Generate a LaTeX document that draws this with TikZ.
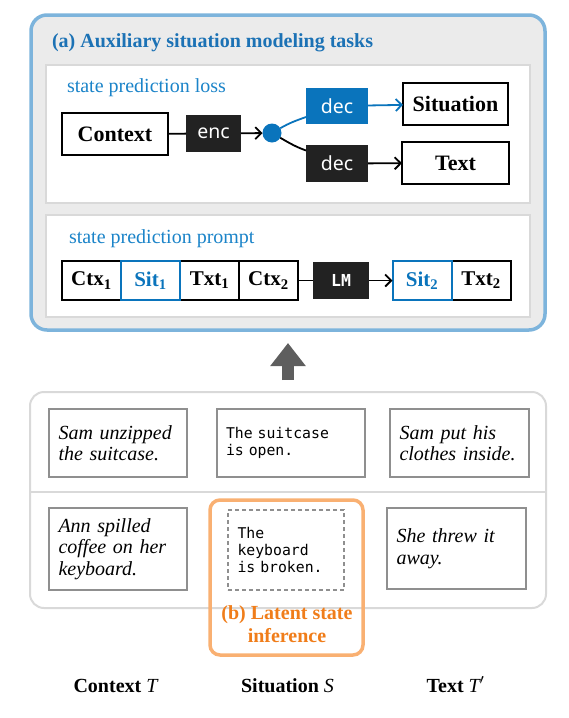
\documentclass[tikz,border=0pt]{standalone}
\usepackage{fontspec}
\setmainfont{Liberation Serif}
\setsansfont{Noto Sans}
\setmonofont{DejaVu Sans Mono}
\usetikzlibrary{positioning,arrows.meta}

\definecolor{frameblue}{HTML}{7DB4DC}
\definecolor{headblue}{HTML}{1C72B5}
\definecolor{softblue}{HTML}{1B84C9}
\definecolor{decblue}{HTML}{0A74BC}
\definecolor{panelgray}{HTML}{EBEBEB}
\definecolor{rimgray}{HTML}{D9D9D9}
\definecolor{cellgray}{HTML}{8F8F8F}
\definecolor{darkbox}{HTML}{222222}
\definecolor{hintorange}{HTML}{F07D1A}
\definecolor{hintrim}{HTML}{F9B072}
\definecolor{liftgray}{HTML}{5E5E5E}

\begin{document}
\begin{tikzpicture}[x=1pt,y=-1pt,
        every node/.style={inner sep=0pt,outer sep=0pt},
        frame/.style={draw=frameblue,line width=3.5pt,fill=panelgray,rounded corners=16pt},
        panel/.style={draw=rimgray,line width=2.5pt,fill=white},
        plain/.style={draw,line width=2pt,fill=white,font=\fontsize{22}{24}\selectfont\bfseries},
        dark/.style={fill=darkbox,text=white,font=\sffamily\fontsize{19.5}{21}\selectfont},
        bright/.style={dark,fill=decblue},
        tok/.style={plain,minimum width=59pt,minimum height=39pt,font=\fontsize{21}{24}\selectfont\bfseries},
        hot/.style={tok,draw=decblue,text=decblue},
        cell/.style={draw=cellgray,line width=2pt,fill=white,align=left,inner xsep=9.5pt,font=\itshape\fontsize{20}{21.5}\selectfont},
        code/.style={cell,font=\ttfamily\fontsize{14.8}{17}\selectfont},
        guess/.style={code,line width=1.5pt,dash pattern=on 4pt off 3pt},
        hint/.style={draw=hintrim,line width=3.5pt,rounded corners=10pt},
        heading/.style={font=\fontsize{20}{23}\selectfont\bfseries},
        tag/.style={anchor=base west,text=softblue,font=\fontsize{20}{24}\selectfont},
        link/.style={line width=1.8pt},
        flow/.style={link,-{Straight Barb[length=6pt,width=12pt]}},
        lift/.style={line width=12pt,draw=liftgray,-{Triangle[length=23pt,width=34pt]}}]
    \useasboundingbox (0,0) rectangle (568,718);

    % (a) auxiliary tasks, upper frame
    \node[frame,minimum width=514pt,minimum height=315pt] (upper) at (288,172.5) {};
    \node[heading,anchor=base west,text=headblue] (uphead) at (52,47) {(a) Auxiliary situation modeling tasks};

    % state prediction loss
    \node[panel,minimum width=484pt,minimum height=138pt] (loss) at (288,134) {};
    \node[tag] (losstag) at (67,92) {state prediction loss};
    \node[plain,minimum width=106pt,minimum height=42pt] (ctx) at (115,134) {Context};
    \node[dark,minimum width=55pt,minimum height=37pt] (enc) at (213.5,133.5) {enc};
    \node[circle,fill=decblue,minimum size=19pt] (hub) at (272,133) {};
    \node[bright,minimum width=62pt,minimum height=36pt] (deca) at (337,106) {dec};
    \node[dark,minimum width=62pt,minimum height=37pt] (decb) at (337,163.5) {dec};
    \node[plain,minimum width=105pt,minimum height=42pt] (sit) at (455.5,104) {Situation};
    \node[plain,minimum width=107pt,minimum height=42pt] (txt) at (455.5,163) {Text};
    \draw[link] (ctx) -- (enc);
    \draw[flow] (enc) -- (hub);
    \draw[link,decblue] (hub) to[out=30,in=200] ([yshift=-11pt]deca.west);
    \draw[link] (hub) to[out=-30,in=160] ([yshift=13pt]decb.west);
    \draw[flow,decblue] (deca) -- (sit);
    \draw[flow] (decb) -- (txt);

    % state prediction prompt
    \node[panel,minimum width=484pt,minimum height=102pt] (prompt) at (288,266) {};
    \node[tag] (prompttag) at (69,243) {state prediction prompt};
    \node[tok] (ctxa) at (91.5,280.5) {Ctx\textsubscript{1}};
    \node[tok] (txta) at (209.5,280.5) {Txt\textsubscript{1}};
    \node[tok,right=0pt of txta] (ctxb) {Ctx\textsubscript{2}};
    \node[hot,right=0pt of ctxa] (sita) {Sit\textsubscript{1}};
    \node[dark,font=\ttfamily\bfseries\fontsize{16.5}{18}\selectfont,minimum width=56pt,minimum height=37pt] (lm) at (341,280.5) {LM};
    \node[tok] (txtb) at (481,280.5) {Txt\textsubscript{2}};
    \node[hot,left=0pt of txtb] (sitb) {Sit\textsubscript{2}};
    \draw[link] (ctxb) -- (lm);
    \draw[flow] (lm) -- (sitb);

    % lower grid of examples
    \node[draw=rimgray,line width=2pt,rounded corners=14pt,minimum width=516pt,minimum height=216pt] (lower) at (288,500) {};
    \draw[draw=rimgray,line width=2pt] (30,492) -- (546,492);
    \draw[lift] ([yshift=12pt]lower.north) -- ([yshift=-13pt]upper.south);

    \node[cell,text width=119pt,minimum height=68pt] (ctxup) at (118,443) {Sam unzipped\\the suitcase.};
    \node[code,text width=129pt,minimum height=68pt] (situp) at (290.5,443) {The suitcase\\is open.};
    \node[cell,text width=120pt,minimum height=68pt] (txtup) at (459.5,443) {Sam put his\\clothes inside.};
    \node[cell,text width=119pt,minimum height=82pt] (ctxdown) at (118,549) {Ann spilled\\coffee on her\\keyboard.};
    \node[guess,text width=97pt,minimum height=80pt] (sitdown) at (286,550) {The\\keyboard\\is broken.};
    \node[cell,text width=120pt,minimum height=81pt] (txtdown) at (456.5,548.5) {She threw it\\away.};

    % (b) latent state inference
    \node[hint,minimum width=153pt,minimum height=155pt] (latent) at (286.5,577.5) {};
    \node[heading,text=hintorange,align=center] (latenttag) at (287,624) {(b) Latent state\\inference};

    % column names
    \node[heading,anchor=base] (ctxname) at (115.5,692) {Context {\mdseries\itshape T}};
    \node[heading,anchor=base] (sitname) at (287.5,692) {Situation {\mdseries\itshape S}};
    \node[heading,anchor=base] (txtname) at (455.5,692) {Text {\mdseries\itshape T}$'$};
\end{tikzpicture}
\end{document}
